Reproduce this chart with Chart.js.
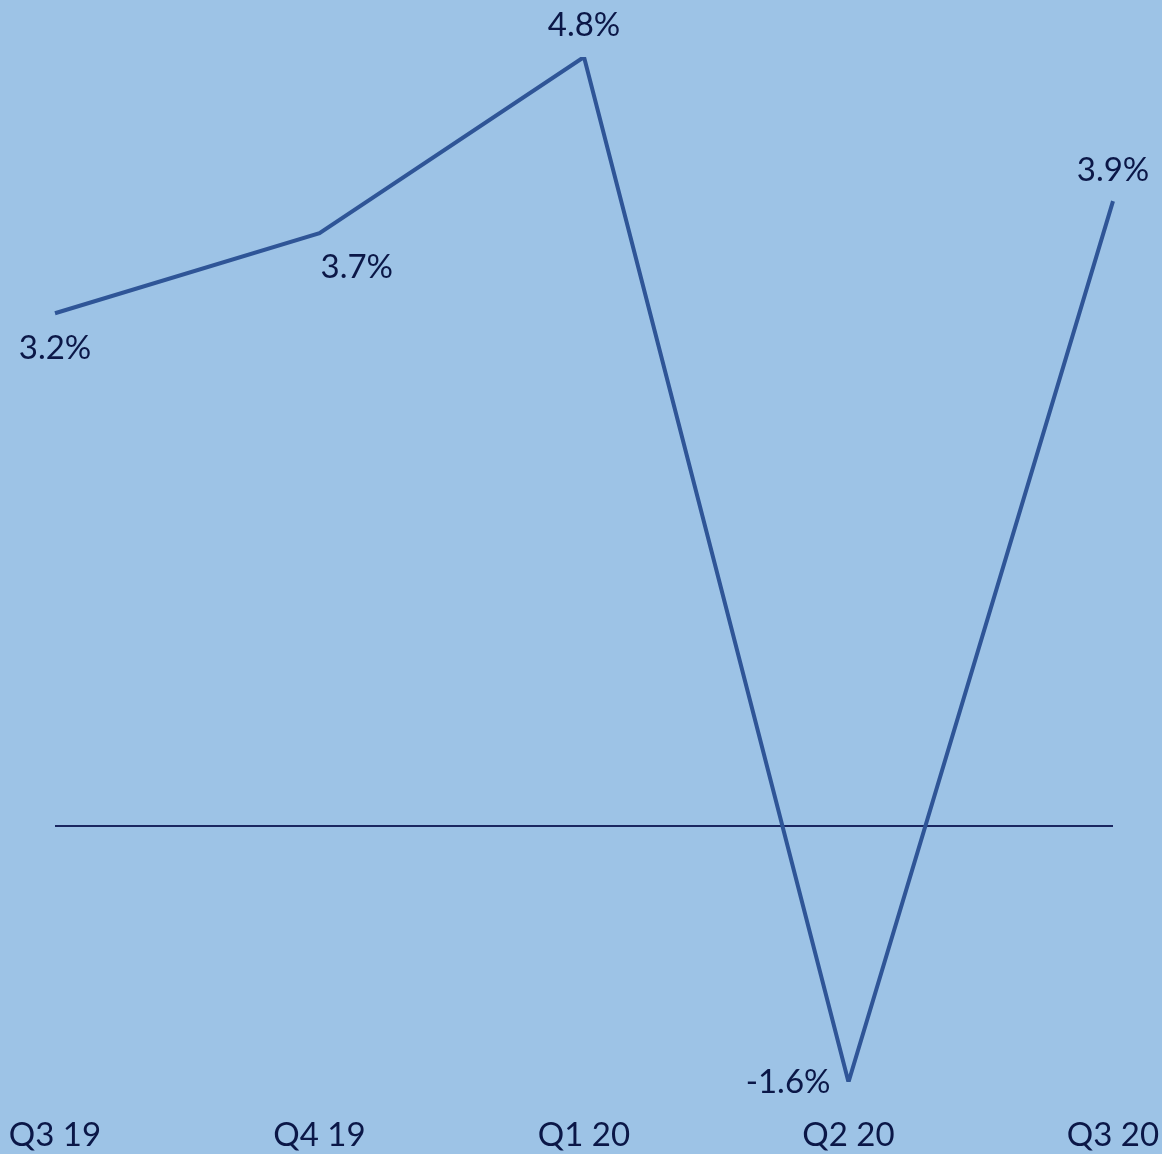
<!DOCTYPE html>
<html>
<head>
<meta charset="utf-8">
<script src="https://cdn.jsdelivr.net/npm/chart.js@4/dist/chart.umd.min.js"></script>
<style>
html,body{margin:0;padding:0;background:#9DC3E6;}
canvas{display:block;}
</style>
</head>
<body>
<canvas id="c" width="1162" height="1154"></canvas>
<script>
const categories = ['Q3 19', 'Q4 19', 'Q1 20', 'Q2 20', 'Q3 20'];
const growth = [3.2, 3.7, 4.8, -1.6, 3.9];
const valueLabels = ['3.2%', '3.7%', '4.8%', '-1.6%', '3.9%'];

const textColor = '#0B1747';
const fontFamily = 'Lato, "Open Sans", sans-serif';
const fontSize = 33;

const labelPlacement = [
  {align: 'center', dx: 0, dy: 35},
  {align: 'left', dx: 1, dy: 34},
  {align: 'center', dx: 0, dy: -32},
  {align: 'right', dx: -18, dy: 0},
  {align: 'center', dx: 0, dy: -31}
];

const labelsPlugin = {
  id: 'labelsPlugin',
  afterDatasetsDraw(chart) {
    const meta = chart.getDatasetMeta(0);
    const ctx = chart.ctx;
    const xScale = chart.scales.x;
    ctx.save();
    ctx.font = fontSize + 'px ' + fontFamily;
    ctx.fillStyle = textColor;
    ctx.textBaseline = 'middle';
    meta.data.forEach((pt, i) => {
      const p = labelPlacement[i];
      ctx.textAlign = p.align;
      ctx.fillText(valueLabels[i], pt.x + p.dx, pt.y + p.dy);
    });
    ctx.textAlign = 'center';
    categories.forEach((c, i) => {
      ctx.fillText(c, xScale.getPixelForValue(i), chart.chartArea.bottom + 53);
    });
    ctx.restore();
  }
};

new Chart(document.getElementById('c'), {
  type: 'line',
  data: {
    labels: categories,
    datasets: [{
      data: growth,
      borderColor: '#2F5597',
      borderWidth: 4,
      pointRadius: 0,
      tension: 0,
      fill: false
    }]
  },
  options: {
    responsive: false,
    animation: false,
    layout: {padding: {left: 55, right: 49, top: 57, bottom: 72}},
    plugins: {legend: {display: false}, tooltip: {enabled: false}},
    scales: {
      x: {
        display: false,
        offset: false
      },
      y: {
        min: -1.6,
        max: 4.8,
        border: {display: false},
        grid: {
          drawTicks: false,
          lineWidth: 2,
          color: (c) => (c.tick && c.tick.value === 0) ? '#1A2660' : 'rgba(0,0,0,0)'
        },
        ticks: {display: false, stepSize: 1}
      }
    }
  },
  plugins: [labelsPlugin]
});
</script>
</body>
</html>
